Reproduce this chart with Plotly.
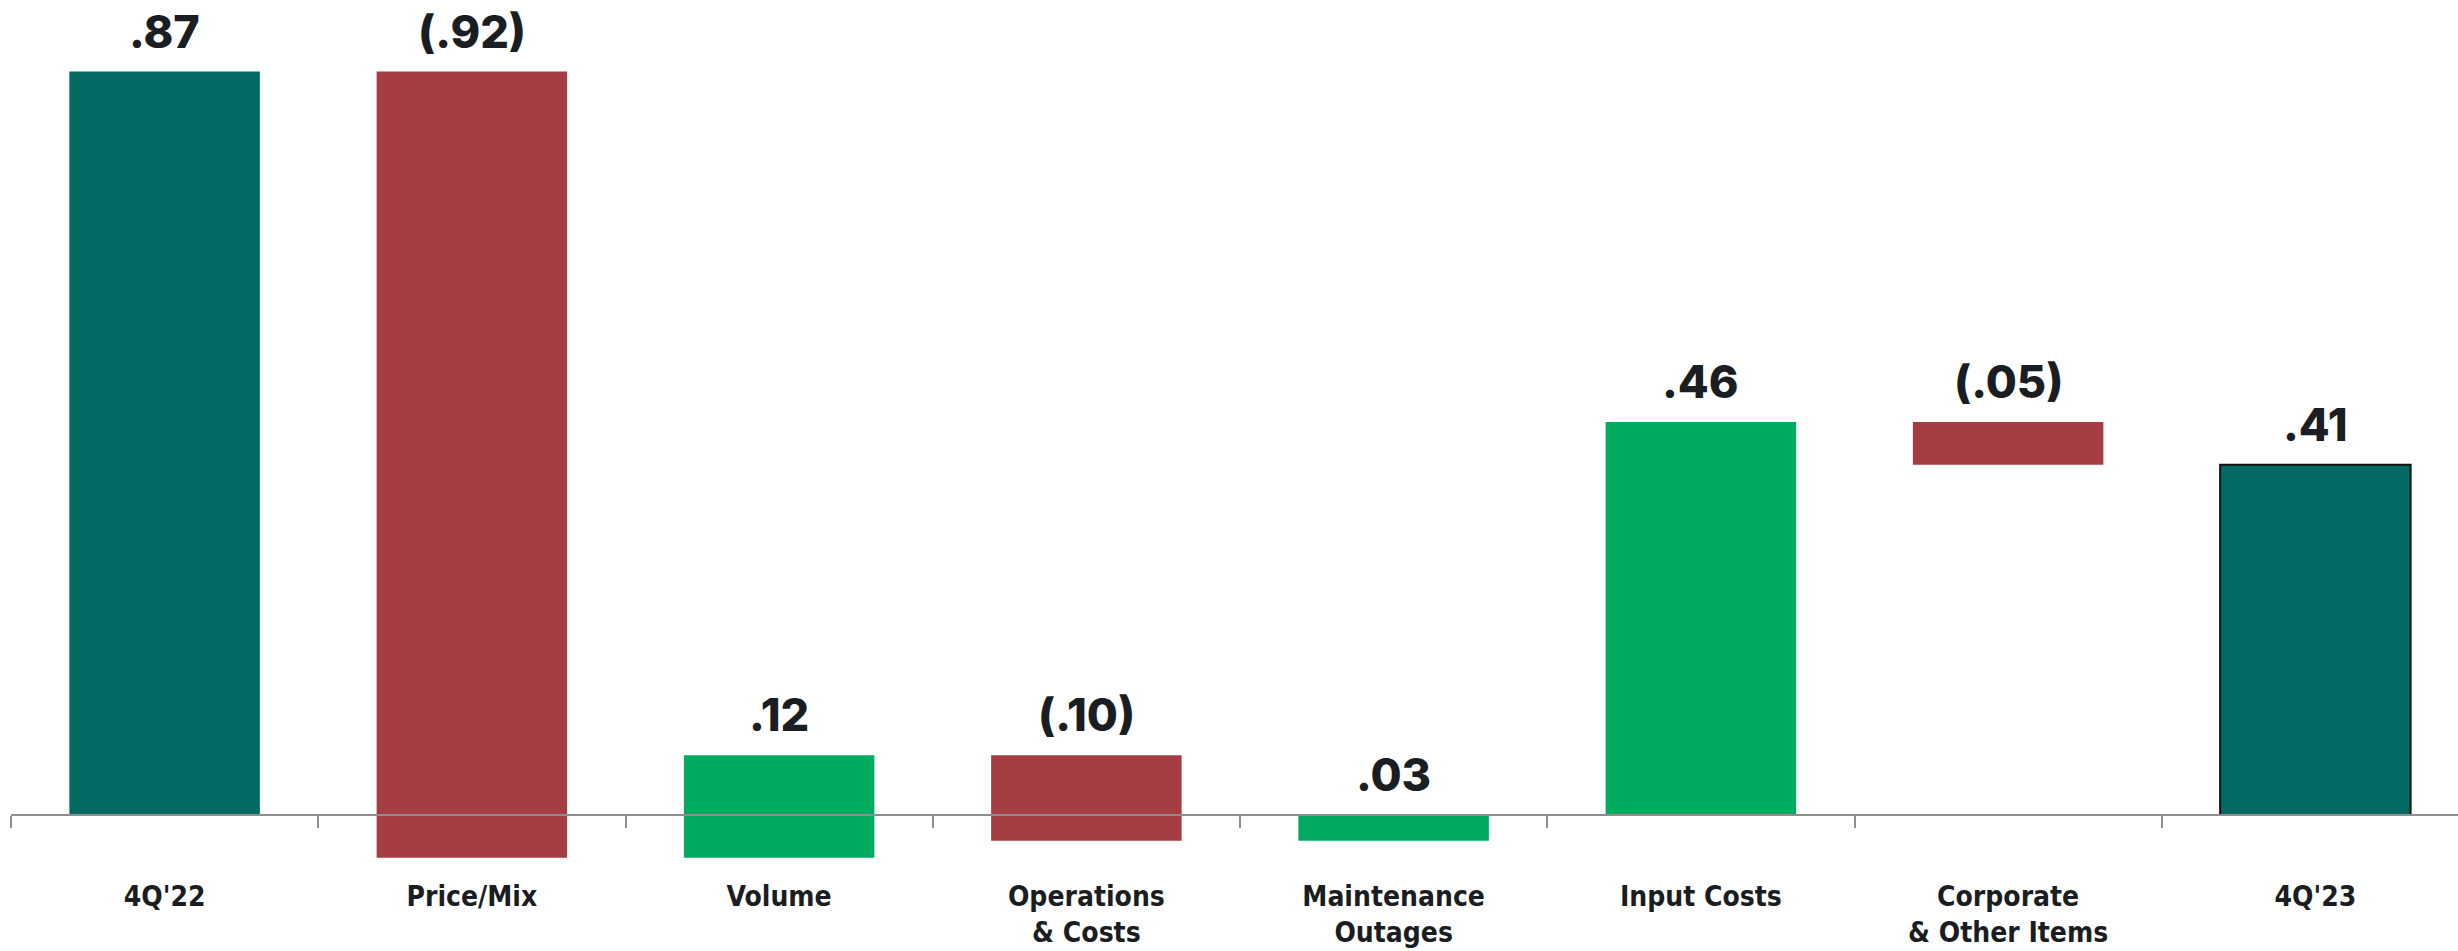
import plotly.graph_objects as go

# EPS bridge: 4Q'22 to 4Q'23
categories = ["4Q'22", "Price/Mix", "Volume", "Operations<br>& Costs",
              "Maintenance<br>Outages", "Input Costs", "Corporate<br>& Other Items", "4Q'23"]
changes = [0.87, -0.92, 0.12, -0.10, 0.03, 0.46, -0.05, 0.41]
measures = ["total", "relative", "relative", "relative", "relative", "relative", "relative", "total"]

TEAL = "#016A62"
GREEN = "#00AA5F"
RED = "#A53D42"
INK = "#1A1D21"


def fmt(v):
    s = f"{abs(v):.2f}".lstrip("0")
    return s if v >= 0 else f"({s})"


# floating bar geometry from the running total
bases, heights, colors = [], [], []
running = 0.0
for v, m in zip(changes, measures):
    if m == "total":
        bases.append(0.0)
        heights.append(v)
        running = v
        colors.append(TEAL)
    else:
        bases.append(running)
        heights.append(v)
        running += v
        colors.append(GREEN if v > 0 else RED)
line_widths = [0] * (len(changes) - 1) + [2]

fig = go.Figure(go.Bar(
    x=categories,
    y=heights,
    base=bases,
    width=0.62,
    marker=dict(color=colors, line=dict(color="#111111", width=line_widths)),
    hoverinfo="skip",
))

for i, (b, h, v) in enumerate(zip(bases, heights, changes)):
    top = max(b, b + h)
    fig.add_annotation(
        x=i, y=top, text=fmt(v), showarrow=False,
        xref="x", yref="y", yanchor="bottom", yshift=11,
        font=dict(family="Inter, Lato, sans-serif", size=45, color=INK, weight=800),
    )

W, H = 2458, 951
left = 11
zero_px = 815          # pixel row of the zero line
px_per_unit = 854.5
y_max = zero_px / px_per_unit
y_min = -(H - zero_px) / px_per_unit
cat_px = 307.25
x_max = -0.5 + (W - left) / cat_px

fig.update_layout(
    width=W, height=H,
    margin=dict(l=left, r=0, t=0, b=0, pad=0),
    plot_bgcolor="white", paper_bgcolor="white",
    showlegend=False,
    xaxis=dict(
        type="category",
        range=[-0.5, x_max],
        showgrid=False, zeroline=False,
        showline=True, linecolor="#8E8E8E", linewidth=2,
        ticks="outside", ticklen=12, tickcolor="#8E8E8E", tickwidth=2,
        tickson="boundaries",
        anchor="free", position=(0 - y_min) / (y_max - y_min),
        ticklabelstandoff=56,
        tickfont=dict(family="DejaVu Sans Condensed, DejaVu Sans, sans-serif", size=28,
                      color=INK, weight="bold"),
        automargin=False,
        fixedrange=True,
    ),
    yaxis=dict(range=[y_min, y_max], visible=False, automargin=False, fixedrange=True),
)

fig.write_html("out.html")
